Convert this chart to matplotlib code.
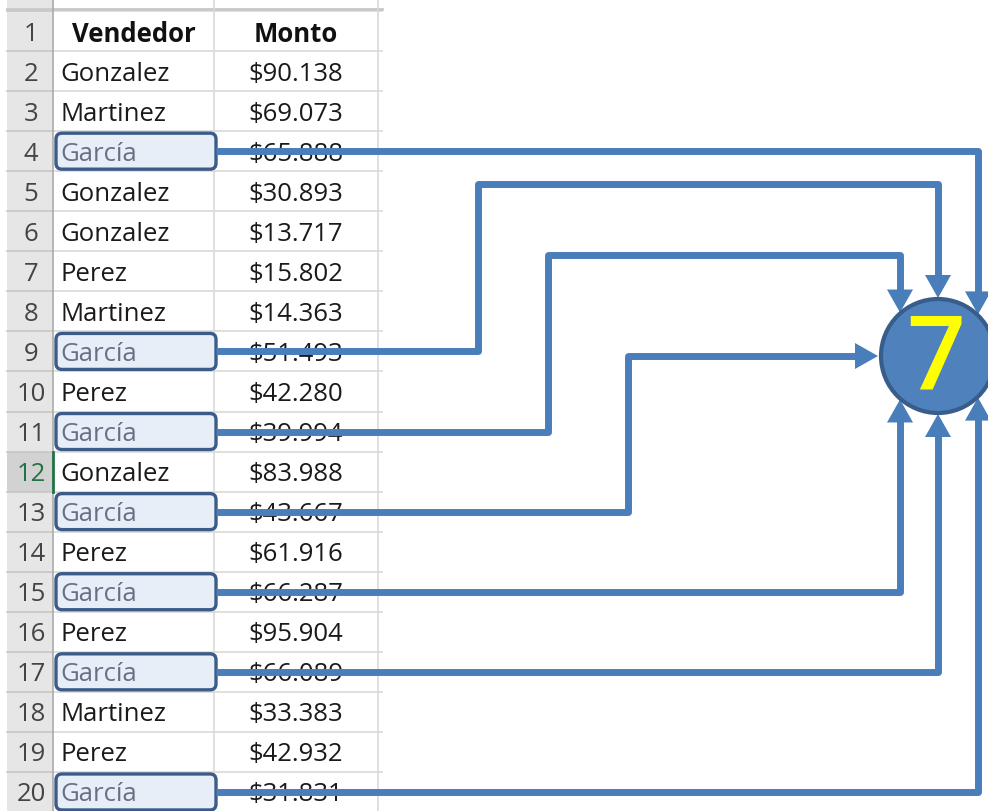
import matplotlib
matplotlib.use("Agg")
import matplotlib.pyplot as plt
from matplotlib.patches import FancyBboxPatch, Circle, Polygon, Rectangle

plt.rcParams['font.family'] = ['Open Sans', 'DejaVu Sans']

# datos de la hoja
headers = ["Vendedor", "Monto"]
vendedores = ["Gonzalez", "Martinez", "García", "Gonzalez", "Gonzalez", "Perez",
              "Martinez", "García", "Perez", "García", "Gonzalez", "García",
              "Perez", "García", "Perez", "García", "Martinez", "Perez", "García"]
montos = ["$90.138", "$69.073", "$65.888", "$30.893", "$13.717", "$15.802",
          "$14.363", "$51.493", "$42.280", "$39.994", "$83.988", "$43.667",
          "$61.916", "$66.287", "$95.904", "$66.089", "$33.383", "$42.932",
          "$31.831"]
buscado = "García"
fila_activa = 12

# layout (pixeles)
W, H = 988, 812
TOP, ROW_H = 12, 40.05
X0, X_HDR, X_B, X_C, X_END = 7, 53, 214, 378, 382
FS = 18.5
TY = 2  # ajuste vertical del texto
BLUE = "#4A7EBB"
CX, CY, R = 938, 357, 57

# ruta de cada flecha: (x del quiebre, y del tramo alto, x de entrada, lado)
rutas = [(None, None, 978, "top"),
         (478, 185, 938, "top"),
         (548, 256, 900, "top"),
         (628, None, None, "left"),
         (None, None, 900, "bottom"),
         (None, None, 938, "bottom"),
         (None, None, 978, "bottom")]


def yc(fila):
    return TOP + (fila - 0.5) * ROW_H


fig = plt.figure(figsize=(W / 100, H / 100), dpi=100)
ax = fig.add_axes([0, 0, 1, 1])
ax.set_xlim(0, W)
ax.set_ylim(H, 0)
ax.axis("off")

n_filas = len(vendedores) + 1
y_bot = TOP + n_filas * ROW_H

# encabezado de filas
ax.add_patch(Rectangle((X0, 0), X_HDR - X0, y_bot, color="#E6E6E6", lw=0))
ax.add_patch(Rectangle((X0, TOP + (fila_activa - 1) * ROW_H), X_HDR - X0, ROW_H,
                       color="#D2D2D2", lw=0))

# grilla
for i in range(n_filas + 1):
    y = TOP + i * ROW_H
    ax.plot([X0, X_HDR], [y, y], color="#C6C6C6", lw=1.2)
    ax.plot([X_HDR, X_END], [y, y], color="#D9D9D9", lw=1.2)
ax.plot([X0, X_END], [TOP - 2, TOP - 2], color="#C8C8C8", lw=2)
for x in [X_B, X_C]:
    ax.plot([x, x], [0, y_bot], color="#D9D9D9", lw=1.2)
ax.plot([X_HDR, X_HDR], [0, y_bot], color="#ABABAB", lw=1.2)
ax.plot([X_HDR - 0.5, X_HDR - 0.5],
        [TOP + (fila_activa - 1) * ROW_H, TOP + fila_activa * ROW_H],
        color="#217346", lw=2)

# numeros de fila
for f in range(1, n_filas + 1):
    col = "#217346" if f == fila_activa else "#444444"
    ax.text((X0 + X_HDR) / 2 + 1, yc(f) + TY, str(f), ha="center", va="center",
            fontsize=FS, color=col)

# titulos
ax.text((X_HDR + X_B) / 2, yc(1) + TY, headers[0], ha="center", va="center",
        fontsize=FS, fontweight="bold", color="#111111")
ax.text((X_B + X_C) / 2, yc(1) + TY, headers[1], ha="center", va="center",
        fontsize=FS, fontweight="bold", color="#111111")

# celdas
filas_buscado = []
for i, (v, m) in enumerate(zip(vendedores, montos)):
    f = i + 2
    if v == buscado:
        filas_buscado.append(f)
        ax.add_patch(FancyBboxPatch((X_HDR + 3, yc(f) - 18), X_B - X_HDR - 1, 36,
                                    boxstyle="round,pad=0,rounding_size=6",
                                    fc="#E8EEF8", ec="#3B5C88", lw=2.4, zorder=3))
        ax.text(X_HDR + 7, yc(f) + TY, v, ha="left", va="center", fontsize=FS,
                color="#6B6F85", zorder=4)
    else:
        ax.text(X_HDR + 7, yc(f) + TY, v, ha="left", va="center", fontsize=FS,
                color="#1A1A1A")
    ax.text((X_B + X_C) / 2, yc(f) + TY, m, ha="center", va="center",
            fontsize=FS, color="#1A1A1A")

# circulo con el total
ax.add_patch(Circle((CX, CY), R, fc="#4F81BD", ec="#385D8A", lw=3, zorder=6))
ax.text(CX - 2, CY + 5, str(len(filas_buscado)), ha="center", va="center",
        fontsize=74, fontweight="semibold", color="#FFFF00", zorder=7)


def flecha(pts):
    # ultimo punto = punta; dibuja linea hasta la base y la cabeza
    hl, hw = 23, 13
    (x1, y1), (x2, y2) = pts[-2], pts[-1]
    dx, dy = x2 - x1, y2 - y1
    d = (dx ** 2 + dy ** 2) ** 0.5
    ux, uy = dx / d, dy / d
    bx, by = x2 - ux * hl, y2 - uy * hl
    xs = [p[0] for p in pts[:-1]] + [bx + ux * 2]
    ys = [p[1] for p in pts[:-1]] + [by + uy * 2]
    ax.plot(xs, ys, color=BLUE, lw=5, solid_joinstyle="round",
            solid_capstyle="butt", zorder=5)
    ax.add_patch(Polygon([(x2, y2), (bx - uy * hw, by + ux * hw),
                          (bx + uy * hw, by - ux * hw)],
                         closed=True, color=BLUE, lw=0, zorder=5))


for f, (jx, jy, ex, lado) in zip(filas_buscado, rutas):
    y0 = yc(f)
    pts = [(X_B + 2, y0)]
    if lado == "left":
        pts += [(jx, y0), (jx, CY), (CX - R - 3, CY)]
    elif lado == "top":
        tip = CY - (R ** 2 - (ex - CX) ** 2) ** 0.5 - 1
        if jx is not None:
            pts += [(jx, y0), (jx, jy), (ex, jy), (ex, tip)]
        else:
            pts += [(ex, y0), (ex, tip)]
    else:
        tip = CY + (R ** 2 - (ex - CX) ** 2) ** 0.5 + 1
        pts += [(ex, y0), (ex, tip)]
    flecha(pts)

fig.savefig("out.png", dpi=100)
